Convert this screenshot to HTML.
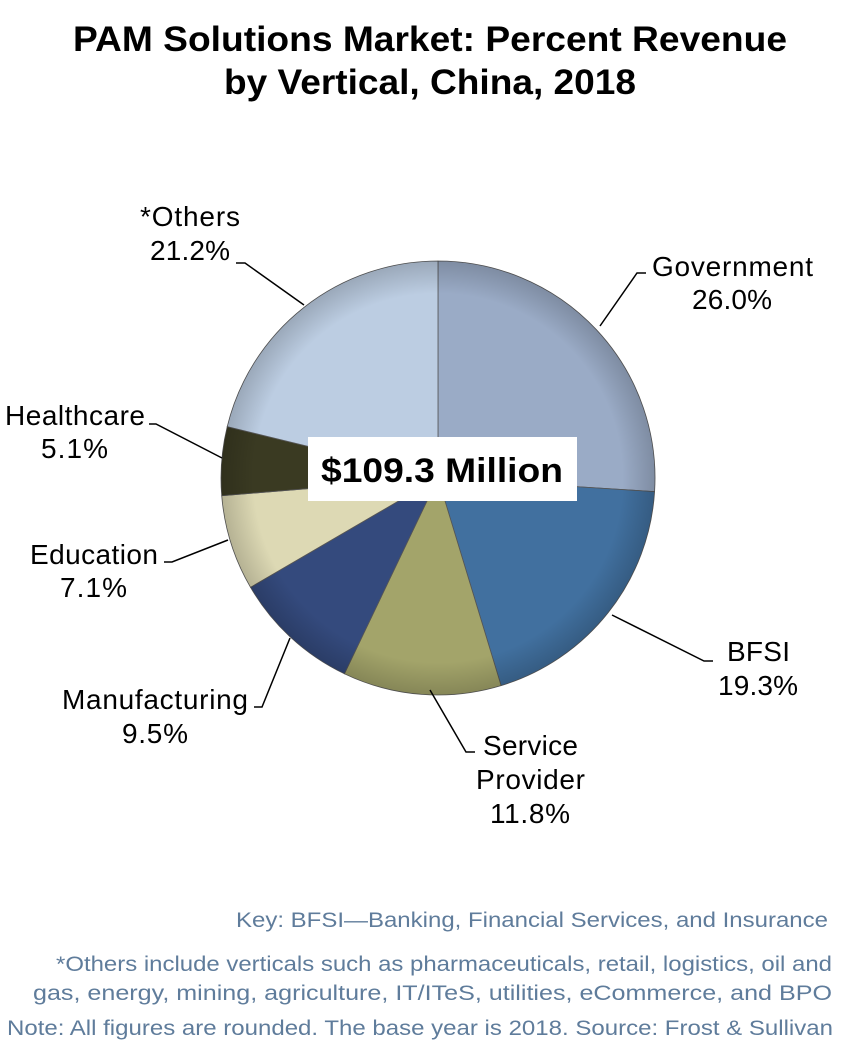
<!DOCTYPE html>
<html><head><meta charset="utf-8"><style>html,body{margin:0;padding:0;background:#fff}</style></head>
<body>
<svg width="844" height="1041" viewBox="0 0 844 1041" xmlns="http://www.w3.org/2000/svg" font-family="Liberation Sans, sans-serif">
<defs>
<radialGradient id="sh" cx="50%" cy="50%" r="50%">
<stop offset="0.85" stop-color="#000" stop-opacity="0"/>
<stop offset="1" stop-color="#000" stop-opacity="0.18"/>
</radialGradient>
</defs>
<text x="430" y="51" font-size="35" font-weight="bold" text-anchor="middle" fill="#000" textLength="714" lengthAdjust="spacingAndGlyphs">PAM Solutions Market: Percent Revenue</text>
<text x="430" y="94" font-size="35" font-weight="bold" text-anchor="middle" fill="#000" textLength="412" lengthAdjust="spacingAndGlyphs">by Vertical, China, 2018</text>

<g stroke="#555" stroke-width="0.8">
<path d="M438,478 L438,261 A217,217 0 0 1 654.6,491.6 Z" fill="#9aabc6"/>
<path d="M438,478 L654.6,491.6 A217,217 0 0 1 501.1,685.6 Z" fill="#41709f"/>
<path d="M438,478 L501.1,685.6 A217,217 0 0 1 344.4,673.8 Z" fill="#a3a46a"/>
<path d="M438,478 L344.4,673.8 A217,217 0 0 1 250.5,587.3 Z" fill="#344a7d"/>
<path d="M438,478 L250.5,587.3 A217,217 0 0 1 221.7,495.7 Z" fill="#ddd9b4"/>
<path d="M438,478 L221.7,495.7 A217,217 0 0 1 227.2,426.7 Z" fill="#3a3a22"/>
<path d="M438,478 L227.2,426.7 A217,217 0 0 1 438,261 Z" fill="#bccde2"/>
</g>
<circle cx="438" cy="478" r="217" fill="url(#sh)"/>

<rect x="308" y="437" width="269" height="64" fill="#fff"/>
<text x="442" y="482" font-size="34" font-weight="bold" text-anchor="middle" fill="#000" textLength="242" lengthAdjust="spacingAndGlyphs">$109.3 Million</text>

<g stroke="#000" stroke-width="1.5" fill="none">
<polyline points="600,326 637,273 646,273"/>
<polyline points="304,305 245,263 236,263"/>
<polyline points="149,424 156,424 222,458"/>
<polyline points="164,562 172,562 228,540"/>
<polyline points="254,707 262,707 290,638"/>
<polyline points="430,690 466,752 475,752"/>
<polyline points="612,615 704,661 713,661"/>
</g>

<g font-size="28" fill="#000" lengthAdjust="spacingAndGlyphs">
<text x="140" y="226" textLength="100">*Others</text>
<text x="150" y="260" textLength="80">21.2%</text>
<text x="652" y="276" textLength="161">Government</text>
<text x="692" y="309" textLength="80">26.0%</text>
<text x="5" y="425" textLength="140">Healthcare</text>
<text x="41" y="458" textLength="67">5.1%</text>
<text x="30" y="564" textLength="128">Education</text>
<text x="60" y="597" textLength="67">7.1%</text>
<text x="62" y="709" textLength="186">Manufacturing</text>
<text x="122" y="743" textLength="66">9.5%</text>
<text x="483" y="755" textLength="95">Service</text>
<text x="476" y="789" textLength="109">Provider</text>
<text x="490" y="823" textLength="80">11.8%</text>
<text x="727" y="661" textLength="63">BFSI</text>
<text x="718" y="695" textLength="80">19.3%</text>
</g>

<g font-size="21" fill="#5f7c9b" text-anchor="end">
<text x="828" y="927" textLength="592" lengthAdjust="spacingAndGlyphs">Key: BFSI—Banking, Financial Services, and Insurance</text>
<text x="832" y="971" textLength="776" lengthAdjust="spacingAndGlyphs">*Others include verticals such as pharmaceuticals, retail, logistics, oil and</text>
<text x="832" y="1000" textLength="799" lengthAdjust="spacingAndGlyphs">gas, energy, mining, agriculture, IT/ITeS, utilities, eCommerce, and BPO</text>
<text x="833" y="1035" textLength="826" lengthAdjust="spacingAndGlyphs">Note: All figures are rounded. The base year is 2018. Source: Frost &amp; Sullivan</text>
</g>
</svg>
</body></html>
